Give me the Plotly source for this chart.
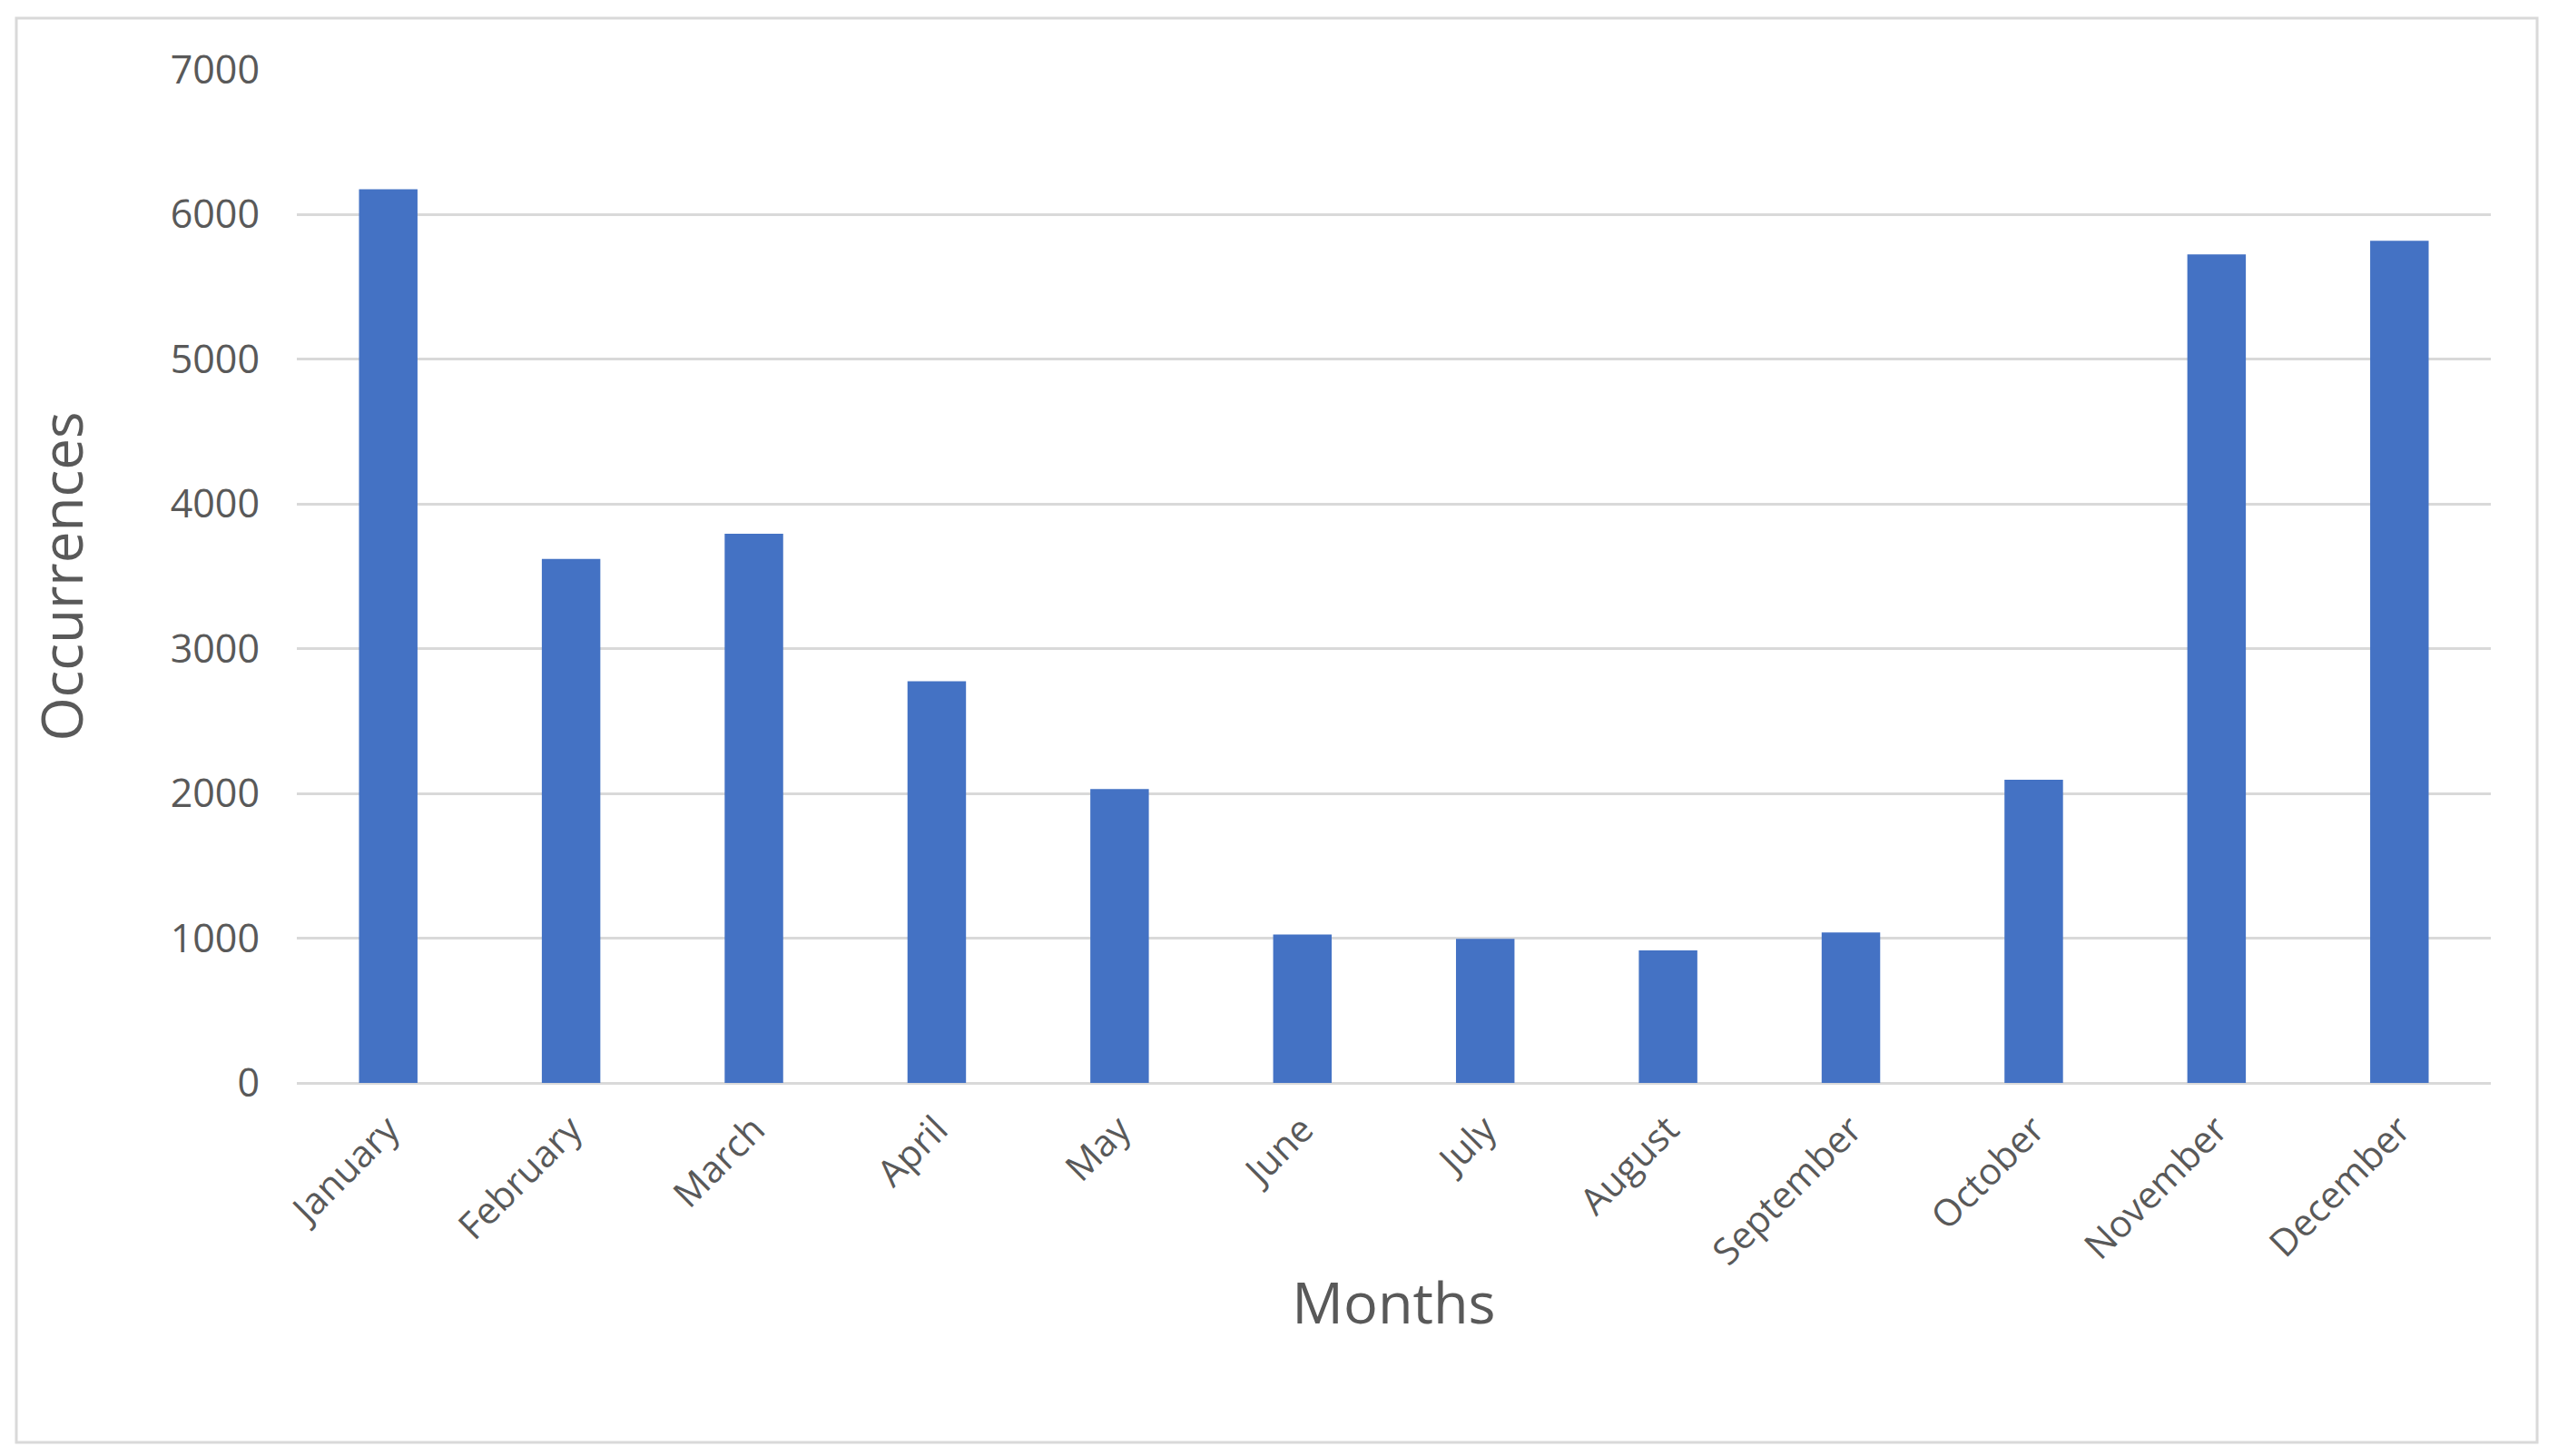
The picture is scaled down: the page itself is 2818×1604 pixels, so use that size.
import plotly.graph_objects as go

months = ["January", "February", "March", "April", "May", "June", "July",
          "August", "September", "October", "November", "December"]
occurrences = [6175, 3620, 3795, 2775, 2030, 1025, 995, 915, 1040, 2095, 5725, 5820]
y_ticks = [0, 1000, 2000, 3000, 4000, 5000, 6000, 7000]

W, H = 2818, 1604
OFF = 8  # page body margin offset
L, R, T, B = 327 - OFF, 74 + OFF, 77 - OFF, 411 + OFF
FONT = "Open Sans, Segoe UI, DejaVu Sans, sans-serif"
GREY = "#595959"

fig = go.Figure(go.Bar(x=months, y=occurrences, marker=dict(color="#4472C4", line=dict(width=0))))

plot_w = W - L - R
plot_h = H - T - B
def px_x(px):
    return (px - OFF - L) / plot_w
def px_y(py):
    return (H - B - (py - OFF)) / plot_h

fig.update_layout(
    width=W, height=H,
    margin=dict(l=L, r=R, t=T, b=B, autoexpand=False),
    paper_bgcolor="white", plot_bgcolor="white",
    bargap=0.68,
    showlegend=False,
    font=dict(family=FONT, color=GREY),
    shapes=[dict(type="rect", xref="paper", yref="paper",
                 x0=px_x(18), x1=px_x(2795), y0=px_y(1589), y1=px_y(20),
                 line=dict(color="#d9d9d9", width=3), fillcolor="rgba(0,0,0,0)", layer="below")],
)
fig.update_xaxes(
    type="category", showgrid=False, zeroline=False, showline=False,
    ticks="", tickangle=-45, tickfont=dict(size=41, color=GREY, family=FONT),
    ticklabelstandoff=18,
    title=dict(text="Months", font=dict(size=63, color=GREY, family=FONT), standoff=10),
)
fig.update_yaxes(
    range=[0, 7000], tickvals=y_ticks, showgrid=True, gridcolor="#d9d9d9", gridwidth=3,
    zeroline=True, zerolinecolor="#d9d9d9", zerolinewidth=3, showline=False, ticks="",
    tickfont=dict(size=43, color=GREY, family=FONT), ticklabelstandoff=40,
    title=dict(text="Occurrences", font=dict(size=62, color=GREY, family=FONT), standoff=75),
)

fig.write_html("out.html")
